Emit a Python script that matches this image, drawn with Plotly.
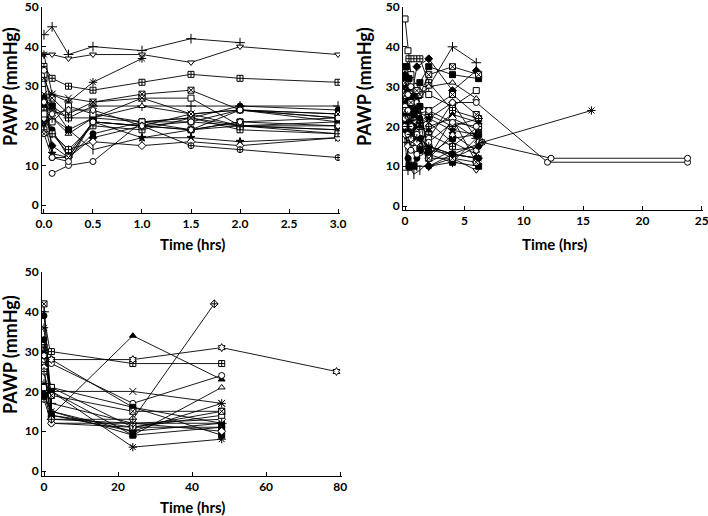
import plotly.graph_objects as go

# ---------------- DATA ----------------
# Panel A: 0-3 h
times_a = [0, 0.083, 0.25, 0.5, 1, 1.5, 2, 3]
subjects_a = {
    "A01": [43, 45, 38, 40, 39, 42, 41, None],
    "A02": [38, 38, 37, 38, 38, 36, 40, 38],
    "A03": [38, 28, 26, 31, 37, None, None, None],
    "A04": [35, 32, 30, 29, 31, 33, 32, 31],
    "A05": [32, 27, 23, 26, 28, 29, 24, 22],
    "A06": [33, 25, 22, 22, 27, 27, 20, 18],
    "A07": [27, 24, 22, 25, 25, 25, 25, 25],
    "A08": [24, 22, 18, 22, 25, 23, 24, 23],
    "A09": [25, 19, 12, 18, 21, 22, 25, 24],
    "A10": [26, 15, 12, 17, 20, 19, 24, 21],
    "A11": [21, 13, 12, 21, 17, 17, 16, 17],
    "A12": [22, 18, 14, 16, 15, 16, 15, 17],
    "A13": [24, 18, 13, 21, 20, 15, 14, 12],
    "A14": [None, 8, 10, 11, 21, 22, 20, 19],
    "A15": [27, 25, 19, 22, 21, 19, 21, 22],
    "A16": [23, 21, 25, 23, 21, 21, 20, 20],
    "A17": [28, 28, 27, 26, 27, 23, 20, 19],
    "A18": [19, 18, 14, 20, 19, 22, 19, 18],
    "A19": [18, 12, 12, 21, 20, 23, 24, 23],
    "A20": [20, 22, 19, 14, 17, 19, 20, 21],
    "A21": [34, 12, 11, 21, 20, 21, 24, 22],
    "A22": [26, 23, 24, 24, 20, 19, 21, 20],
}

# Panel B: 0-24 h (two sampling schedules)
times_b1 = [0, 0.25, 0.5, 1, 2, 4, 6]
times_b2 = [0.1, 0.33, 0.75, 1.25, 2, 4, 6.2]
subjects_b = {
    "B01": [47, 39, 33, 30, 28, 25, 29],
    "B02": [35, 37, 37, 37, 31, 24, 22],
    "B03": [33, 30, 27, 35, 37, 29, 34],
    "B04": [35, 32, 28, 31, 35, 33, 32],
    "B05": [18, 22, 25, 27, 30, 40, 36],
    "B06": [30, 26, 24, 28, 33, 35, 33],
    "B07": [28, 25, 22, 26, 30, 31, 27],
    "B08": [25, 23, 21, 20, 22, 26, 16],
    "B09": [31, 28, 29, 23, 24, 28, 23],
    "B10": [27, 22, 19, 15, 20, 22, 19],
    "B11": [20, 17, 15, 13, 15, 12, 9],
    "B12": [12, 10, 8, 9, 11, 14, 15],
    "B13": [21, 12, 10, 12, 14, 13, 12],
    "B14": [19, 10, 10, 14, 13, 17, 18],
    "B15": [16, 9, 11, 10, 10, 11, 17],
    "B16": [26, 21, 19, 21, 23, 20, 22],
    "B17": [24, 26, 22, 19, 12, 18, 14],
    "B18": [22, 18, 16, 20, 18, 15, 20],
    "B19": [29, 27, 25, 22, 21, 16, 13],
    "B20": [30, 25, 23, 20, 19, 23, 21],
    "B21": [18, 15, 17, 16, 12, 22, 11],
    "B22": [26, 24, 20, 17, 10, 12, 15],
    "B23": [32, 29, 26, 24, 22, 19, 18],
    "B24": [23, 20, 18, 17, 15, 13, 12],
    "B25": [25, 28, 30, 26, 24, 21, 20],
    "B29": [21, 19, 23, 25, 13, 11, 10],
    "B30": [24, 22, 26, 29, 12, 12, 11],
    "B31": [19, 21, 24, 22, 10, 13, 12],
}
# subjects in panel B followed beyond 6 h
long_b = {
    "B26": ([0, 0.25, 0.5, 1, 2, 4, 6, 12, 23.8], [22, 24, 20, 18, 17, 26, 26, 11, 11]),
    "B27": ([0, 0.25, 0.5, 1, 2, 4, 6.5, 12.3, 23.8], [20, 18, 14, 13, 16, 21, 16, 12, 12]),
    "B28": ([0, 0.25, 0.5, 1, 2, 4, 6.5, 15.7], [23, 20, 18, 17, 15, 13, 16, 24]),
}

# Panel C: 0-80 h
times_c = [0, 2, 24, 48]
subjects_c = {
    "C01": [42, 14, 11, 15],
    "C02": [39, 28, 16, 12],
    "C03": [31, 30, 27, 27],
    "C04": [20, 14, 34, 23],
    "C05": [31, 20, 20, 17],
    "C06": [22, 20, 6, 8],
    "C07": [28, 27, 17, 24],
    "C08": [19, 15, 9, 21],
    "C09": [26, 21, 16, 9],
    "C10": [33, 14, 10, 12],
    "C11": [18, 12, 11, 11],
    "C12": [20, 12, 12, 13],
    "C13": [21, 21, 11, 14],
    "C14": [19, 20, 9, 11],
    "C15": [36, 15, 10, 17],
    "C16": [29, 19, 15, 15],
    "C17": [26, 13, 12, 10],
    "C18": [40, 17, 12, 12],
}
long_c = {
    "C19": ([0, 2, 24, 48, 79], [29, 28, 28, 31, 25]),
    "C20": ([0, 2, 24, 46], [25, 13, 13, 42]),
}

x_ticks_a = [0, 0.5, 1, 1.5, 2, 2.5, 3]
x_ticklabels_a = ["0.0", "0.5", "1.0", "1.5", "2.0", "2.5", "3.0"]
x_ticks_b = [0, 5, 10, 15, 20, 25]
x_ticks_c = [0, 20, 40, 60, 80]
y_ticks = [0, 10, 20, 30, 40, 50]
x_title = "Time (hrs)"
y_title = "PAWP (mmHg)"

# ---------------- STYLE ----------------
# (symbol, filled)
STYLES_A = [
    ("cross-thin", False), ("triangle-down", False), ("asterisk", False), ("square-cross", False),
    ("square-x", False), ("square", False), ("cross-thin", False), ("triangle-up", False),
    ("circle", True), ("diamond", True), ("star", True), ("diamond", False),
    ("circle-cross", False), ("circle", False), ("square", True), ("square", False),
    ("x-thin", False), ("square-cross", False), ("circle-x", False), ("line-ns", False),
    ("circle", False), ("hexagram", False),
]
STYLES_B = [
    ("square", False), ("square-cross", False), ("diamond", True), ("square", True),
    ("cross-thin", False), ("square-x", False), ("triangle-up", False), ("diamond", False),
    ("square-x", False), ("circle-cross", False), ("triangle-down", False), ("line-ns", False),
    ("circle", True), ("square", True), ("cross-thin", False), ("diamond-cross", False),
    ("hexagram", False), ("square-cross", False), ("x-thin", False), ("triangle-up", True),
    ("diamond", False), ("circle", True), ("star", True), ("asterisk", False),
    ("circle", False), ("square", True), ("square-x", False), ("circle", True),
]
STYLES_C = [
    ("square-x", False), ("circle", True), ("square-cross", False), ("triangle-up", True),
    ("x-thin", False), ("asterisk", False), ("circle", False), ("triangle-up", False),
    ("square", True), ("circle", True), ("circle-cross", False), ("diamond", False),
    ("square", False), ("square", True), ("asterisk", False), ("square-x", False),
    ("diamond", False), ("cross-thin", False),
]

W, H = 708, 516

fig = go.Figure()


def add_subject(x, y, style, xa, ya):
    sym, filled = style
    thin = sym in ("cross-thin", "x-thin", "asterisk", "line-ns", "y-up")
    fig.add_trace(go.Scatter(
        x=x, y=y, mode="lines+markers", xaxis=xa, yaxis=ya,
        connectgaps=True,
        line=dict(color="black", width=0.9),
        marker=dict(symbol=sym, size=7 if thin else 6,
                    color="black" if filled else "white",
                    line=dict(color="black", width=1)),
        hoverinfo="skip", showlegend=False,
    ))


for i, v in enumerate(subjects_a.values()):
    add_subject(times_a, v, STYLES_A[i % len(STYLES_A)], "x", "y")
for i, v in enumerate(subjects_b.values()):
    tb = times_b1 if i % 2 == 0 else times_b2
    add_subject(tb, v, STYLES_B[i % len(STYLES_B)], "x2", "y2")
add_subject(*long_b["B26"], ("circle", False), "x2", "y2")
add_subject(*long_b["B27"], ("circle", False), "x2", "y2")
add_subject(*long_b["B28"], ("asterisk", False), "x2", "y2")
for i, v in enumerate(subjects_c.values()):
    add_subject(times_c, v, STYLES_C[i % len(STYLES_C)], "x3", "y3")
add_subject(*long_c["C19"], ("hexagram", False), "x3", "y3")
add_subject(*long_c["C20"], ("diamond-cross", False), "x3", "y3")


def dx(a, b):
    return [a / W, b / W]


def dy(top, bottom):
    return [1 - bottom / H, 1 - top / H]


tickfont = dict(family="Lato", size=12, color="black", weight="bold")
axcommon = dict(showline=True, linecolor="black", linewidth=1, ticks="inside", ticklen=4,
                tickcolor="black", showgrid=False, zeroline=False, tickfont=tickfont,
                automargin=False, ticklabeloverflow="allow")

fig.update_layout(
    width=W, height=H, margin=dict(l=0, r=0, t=0, b=0, autoexpand=False),
    paper_bgcolor="white", plot_bgcolor="white", showlegend=False,
    xaxis=dict(domain=dx(42, 340), range=[-0.02, 3.02], tickvals=x_ticks_a,
               ticktext=x_ticklabels_a, anchor="y", **axcommon),
    yaxis=dict(domain=dy(7, 213), range=[-2, 50], tickvals=y_ticks, anchor="x", **axcommon),
    xaxis2=dict(domain=dx(403, 703), range=[-0.17, 25.1], tickvals=x_ticks_b, anchor="y2", **axcommon),
    yaxis2=dict(domain=dy(7, 210), range=[-1, 50], tickvals=y_ticks, anchor="x2", **axcommon),
    xaxis3=dict(domain=dx(42, 342), range=[-0.54, 80.5], tickvals=x_ticks_c, anchor="y3", **axcommon),
    yaxis3=dict(domain=dy(272, 476), range=[-1.25, 50], tickvals=y_ticks, anchor="x3", **axcommon),
)

xtitlefont = dict(family="Lato", size=15, color="black", weight="bold")
ytitlefont = dict(family="Lato", size=18, color="black", weight="bold")
for (cx, cy) in [(193, 244), (555, 244), (193, 507)]:
    fig.add_annotation(text=x_title, x=cx / W, y=1 - cy / H, xref="paper", yref="paper",
                       showarrow=False, font=xtitlefont, xanchor="center", yanchor="middle")
for (cx, cy) in [(10, 87), (364, 87), (10, 355)]:
    fig.add_annotation(text=y_title, x=cx / W, y=1 - cy / H, xref="paper", yref="paper",
                       showarrow=False, font=ytitlefont, textangle=-90,
                       xanchor="center", yanchor="middle")

# remove the default page margin so the figure sits at the window origin
fig.write_html("out.html", config={"displayModeBar": False},
               post_script="document.body.style.margin='0px';")
